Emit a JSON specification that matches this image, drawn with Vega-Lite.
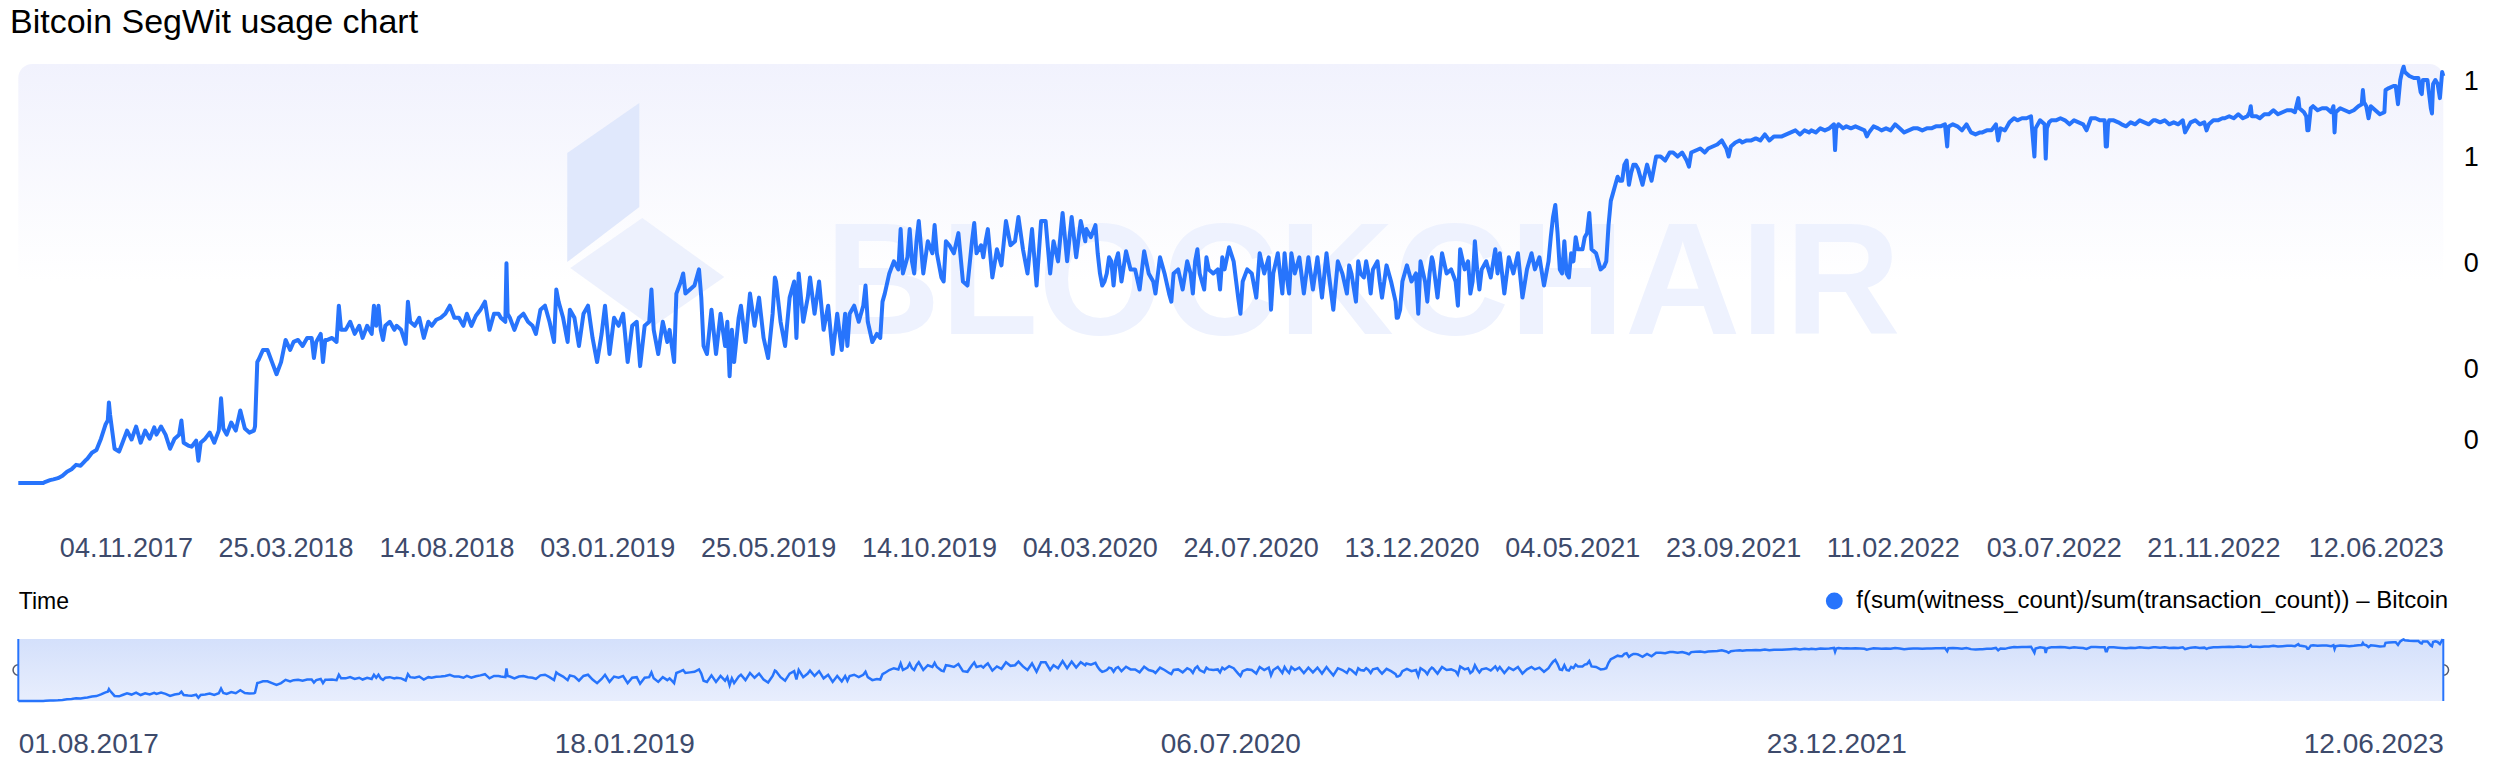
{
"$schema": "https://vega.github.io/schema/vega-lite/v6.json",
"padding": {"left": 9.3, "top": 6, "right": 10, "bottom": 0},
"background": "white",
"title": {"text": "Bitcoin SegWit usage chart", "anchor": "start", "fontSize": 34, "font": "Liberation Sans", "fontWeight": "normal", "color": "#000000", "offset": 24},
"config": {"view": {"stroke": null}, "font": "Liberation Sans"},
"spacing": 20,
"resolve": {"scale": {"x": "independent", "y": "independent", "color": "independent"}},
"datasets": {"segwit": [
{"t":"2017-08-01","v":0},{"t":"2017-08-09","v":0},{"t":"2017-08-17","v":0},{"t":"2017-08-23","v":0},{"t":"2017-08-25","v":0.003},{"t":"2017-08-29","v":0.007},
{"t":"2017-09-01","v":0.009},{"t":"2017-09-05","v":0.012},{"t":"2017-09-09","v":0.018},{"t":"2017-09-13","v":0.028},{"t":"2017-09-17","v":0.034},{"t":"2017-09-21","v":0.045},{"t":"2017-09-25","v":0.043},{"t":"2017-09-29","v":0.055},
{"t":"2017-10-01","v":0.06},{"t":"2017-10-05","v":0.075},{"t":"2017-10-09","v":0.082},{"t":"2017-10-13","v":0.11},{"t":"2017-10-17","v":0.145},{"t":"2017-10-19","v":0.155},{"t":"2017-10-20","v":0.2},{"t":"2017-10-21","v":0.17},{"t":"2017-10-25","v":0.085},{"t":"2017-10-29","v":0.078},
{"t":"2017-11-01","v":0.10},{"t":"2017-11-05","v":0.13},{"t":"2017-11-09","v":0.108},{"t":"2017-11-13","v":0.14},{"t":"2017-11-17","v":0.10},{"t":"2017-11-21","v":0.13},{"t":"2017-11-25","v":0.11},{"t":"2017-11-29","v":0.138},
{"t":"2017-12-01","v":0.12},{"t":"2017-12-05","v":0.14},{"t":"2017-12-09","v":0.12},{"t":"2017-12-13","v":0.085},{"t":"2017-12-17","v":0.11},{"t":"2017-12-21","v":0.12},{"t":"2017-12-23","v":0.155},{"t":"2017-12-25","v":0.10},{"t":"2017-12-29","v":0.093},
{"t":"2018-01-01","v":0.09},{"t":"2018-01-05","v":0.105},{"t":"2018-01-07","v":0.055},{"t":"2018-01-09","v":0.10},{"t":"2018-01-13","v":0.11},{"t":"2018-01-17","v":0.125},{"t":"2018-01-21","v":0.10},{"t":"2018-01-25","v":0.13},{"t":"2018-01-27","v":0.21},{"t":"2018-01-29","v":0.135},
{"t":"2018-02-01","v":0.12},{"t":"2018-02-05","v":0.15},{"t":"2018-02-09","v":0.13},{"t":"2018-02-13","v":0.18},{"t":"2018-02-17","v":0.135},{"t":"2018-02-21","v":0.125},{"t":"2018-02-25","v":0.13},{"t":"2018-02-26","v":0.14},{"t":"2018-02-28","v":0.30},
{"t":"2018-03-01","v":0.305},{"t":"2018-03-05","v":0.33},{"t":"2018-03-09","v":0.33},{"t":"2018-03-13","v":0.30},{"t":"2018-03-17","v":0.27},{"t":"2018-03-21","v":0.30},{"t":"2018-03-25","v":0.355},{"t":"2018-03-29","v":0.33},
{"t":"2018-04-01","v":0.35},{"t":"2018-04-05","v":0.355},{"t":"2018-04-09","v":0.34},{"t":"2018-04-13","v":0.36},{"t":"2018-04-17","v":0.36},{"t":"2018-04-19","v":0.31},{"t":"2018-04-21","v":0.35},{"t":"2018-04-25","v":0.37},{"t":"2018-04-27","v":0.30},{"t":"2018-04-29","v":0.355},
{"t":"2018-05-01","v":0.355},{"t":"2018-05-05","v":0.36},{"t":"2018-05-09","v":0.35},{"t":"2018-05-11","v":0.44},{"t":"2018-05-13","v":0.38},{"t":"2018-05-17","v":0.38},{"t":"2018-05-21","v":0.40},{"t":"2018-05-25","v":0.37},{"t":"2018-05-29","v":0.39},
{"t":"2018-06-01","v":0.36},{"t":"2018-06-05","v":0.39},{"t":"2018-06-09","v":0.37},{"t":"2018-06-11","v":0.44},{"t":"2018-06-13","v":0.39},{"t":"2018-06-15","v":0.44},{"t":"2018-06-17","v":0.38},{"t":"2018-06-19","v":0.355},{"t":"2018-06-21","v":0.39},{"t":"2018-06-25","v":0.40},{"t":"2018-06-29","v":0.38},
{"t":"2018-07-01","v":0.39},{"t":"2018-07-05","v":0.38},{"t":"2018-07-09","v":0.345},{"t":"2018-07-11","v":0.45},{"t":"2018-07-13","v":0.40},{"t":"2018-07-17","v":0.39},{"t":"2018-07-21","v":0.41},{"t":"2018-07-25","v":0.36},{"t":"2018-07-29","v":0.40},
{"t":"2018-08-01","v":0.39},{"t":"2018-08-05","v":0.405},{"t":"2018-08-09","v":0.41},{"t":"2018-08-13","v":0.42},{"t":"2018-08-17","v":0.44},{"t":"2018-08-21","v":0.41},{"t":"2018-08-25","v":0.41},{"t":"2018-08-29","v":0.39},
{"t":"2018-09-01","v":0.42},{"t":"2018-09-05","v":0.39},{"t":"2018-09-09","v":0.415},{"t":"2018-09-13","v":0.43},{"t":"2018-09-17","v":0.45},{"t":"2018-09-21","v":0.38},{"t":"2018-09-25","v":0.42},{"t":"2018-09-29","v":0.42},
{"t":"2018-10-01","v":0.41},{"t":"2018-10-05","v":0.40},{"t":"2018-10-06","v":0.545},{"t":"2018-10-07","v":0.42},{"t":"2018-10-09","v":0.41},{"t":"2018-10-13","v":0.38},{"t":"2018-10-17","v":0.41},{"t":"2018-10-21","v":0.42},{"t":"2018-10-25","v":0.40},{"t":"2018-10-29","v":0.39},
{"t":"2018-11-01","v":0.37},{"t":"2018-11-05","v":0.43},{"t":"2018-11-09","v":0.44},{"t":"2018-11-13","v":0.40},{"t":"2018-11-17","v":0.35},{"t":"2018-11-19","v":0.48},{"t":"2018-11-21","v":0.45},{"t":"2018-11-25","v":0.41},{"t":"2018-11-29","v":0.35},
{"t":"2018-12-01","v":0.43},{"t":"2018-12-05","v":0.41},{"t":"2018-12-09","v":0.34},{"t":"2018-12-13","v":0.42},{"t":"2018-12-17","v":0.44},{"t":"2018-12-21","v":0.36},{"t":"2018-12-25","v":0.30},{"t":"2018-12-29","v":0.37},
{"t":"2019-01-01","v":0.44},{"t":"2019-01-05","v":0.32},{"t":"2019-01-09","v":0.41},{"t":"2019-01-13","v":0.39},{"t":"2019-01-17","v":0.42},{"t":"2019-01-21","v":0.30},{"t":"2019-01-25","v":0.39},{"t":"2019-01-29","v":0.40},
{"t":"2019-02-01","v":0.29},{"t":"2019-02-05","v":0.39},{"t":"2019-02-09","v":0.40},{"t":"2019-02-11","v":0.48},{"t":"2019-02-13","v":0.38},{"t":"2019-02-17","v":0.32},{"t":"2019-02-21","v":0.40},{"t":"2019-02-25","v":0.35},{"t":"2019-02-27","v":0.38},
{"t":"2019-03-01","v":0.34},{"t":"2019-03-03","v":0.30},{"t":"2019-03-05","v":0.47},{"t":"2019-03-09","v":0.50},{"t":"2019-03-11","v":0.52},{"t":"2019-03-13","v":0.47},{"t":"2019-03-17","v":0.48},{"t":"2019-03-21","v":0.49},{"t":"2019-03-25","v":0.53},{"t":"2019-03-27","v":0.46},{"t":"2019-03-29","v":0.34},
{"t":"2019-04-01","v":0.32},{"t":"2019-04-05","v":0.43},{"t":"2019-04-09","v":0.32},{"t":"2019-04-13","v":0.42},{"t":"2019-04-17","v":0.34},{"t":"2019-04-19","v":0.40},{"t":"2019-04-21","v":0.265},{"t":"2019-04-23","v":0.38},{"t":"2019-04-25","v":0.30},{"t":"2019-04-29","v":0.41},
{"t":"2019-05-01","v":0.44},{"t":"2019-05-05","v":0.35},{"t":"2019-05-09","v":0.47},{"t":"2019-05-13","v":0.39},{"t":"2019-05-17","v":0.46},{"t":"2019-05-21","v":0.36},{"t":"2019-05-25","v":0.31},{"t":"2019-05-29","v":0.42},{"t":"2019-05-31","v":0.51},
{"t":"2019-06-01","v":0.50},{"t":"2019-06-05","v":0.40},{"t":"2019-06-09","v":0.34},{"t":"2019-06-13","v":0.46},{"t":"2019-06-17","v":0.50},{"t":"2019-06-19","v":0.36},{"t":"2019-06-21","v":0.52},{"t":"2019-06-25","v":0.40},{"t":"2019-06-29","v":0.46},
{"t":"2019-07-01","v":0.51},{"t":"2019-07-05","v":0.42},{"t":"2019-07-09","v":0.50},{"t":"2019-07-13","v":0.38},{"t":"2019-07-17","v":0.44},{"t":"2019-07-21","v":0.32},{"t":"2019-07-25","v":0.42},{"t":"2019-07-29","v":0.33},
{"t":"2019-08-01","v":0.42},{"t":"2019-08-03","v":0.34},{"t":"2019-08-05","v":0.42},{"t":"2019-08-09","v":0.44},{"t":"2019-08-13","v":0.40},{"t":"2019-08-17","v":0.44},{"t":"2019-08-19","v":0.49},{"t":"2019-08-21","v":0.40},{"t":"2019-08-25","v":0.35},{"t":"2019-08-29","v":0.37},
{"t":"2019-09-01","v":0.36},{"t":"2019-09-03","v":0.45},{"t":"2019-09-05","v":0.47},{"t":"2019-09-09","v":0.52},{"t":"2019-09-13","v":0.55},{"t":"2019-09-17","v":0.53},{"t":"2019-09-19","v":0.63},{"t":"2019-09-21","v":0.52},{"t":"2019-09-25","v":0.56},{"t":"2019-09-27","v":0.63},{"t":"2019-09-29","v":0.55},
{"t":"2019-10-01","v":0.52},{"t":"2019-10-03","v":0.60},{"t":"2019-10-05","v":0.65},{"t":"2019-10-09","v":0.52},{"t":"2019-10-13","v":0.60},{"t":"2019-10-17","v":0.57},{"t":"2019-10-19","v":0.64},{"t":"2019-10-21","v":0.57},{"t":"2019-10-25","v":0.51},{"t":"2019-10-27","v":0.50},{"t":"2019-10-29","v":0.60},
{"t":"2019-11-01","v":0.59},{"t":"2019-11-05","v":0.57},{"t":"2019-11-09","v":0.62},{"t":"2019-11-13","v":0.50},{"t":"2019-11-17","v":0.49},{"t":"2019-11-21","v":0.60},{"t":"2019-11-23","v":0.645},{"t":"2019-11-25","v":0.57},{"t":"2019-11-29","v":0.59},
{"t":"2019-12-01","v":0.56},{"t":"2019-12-03","v":0.60},{"t":"2019-12-05","v":0.63},{"t":"2019-12-09","v":0.51},{"t":"2019-12-13","v":0.58},{"t":"2019-12-17","v":0.54},{"t":"2019-12-21","v":0.65},{"t":"2019-12-25","v":0.59},{"t":"2019-12-29","v":0.60},
{"t":"2020-01-01","v":0.66},{"t":"2020-01-05","v":0.58},{"t":"2020-01-09","v":0.52},{"t":"2020-01-13","v":0.63},{"t":"2020-01-17","v":0.49},{"t":"2020-01-21","v":0.65},{"t":"2020-01-25","v":0.65},{"t":"2020-01-29","v":0.52},
{"t":"2020-02-01","v":0.60},{"t":"2020-02-05","v":0.55},{"t":"2020-02-09","v":0.67},{"t":"2020-02-13","v":0.55},{"t":"2020-02-17","v":0.66},{"t":"2020-02-21","v":0.56},{"t":"2020-02-25","v":0.65},{"t":"2020-02-29","v":0.60},
{"t":"2020-03-01","v":0.63},{"t":"2020-03-05","v":0.61},{"t":"2020-03-09","v":0.64},{"t":"2020-03-11","v":0.57},{"t":"2020-03-13","v":0.52},{"t":"2020-03-15","v":0.49},{"t":"2020-03-17","v":0.50},{"t":"2020-03-19","v":0.52},{"t":"2020-03-21","v":0.56},{"t":"2020-03-23","v":0.55},{"t":"2020-03-25","v":0.49},{"t":"2020-03-27","v":0.55},{"t":"2020-03-29","v":0.57},
{"t":"2020-04-01","v":0.50},{"t":"2020-04-05","v":0.575},{"t":"2020-04-09","v":0.53},{"t":"2020-04-13","v":0.53},{"t":"2020-04-17","v":0.48},{"t":"2020-04-21","v":0.575},{"t":"2020-04-25","v":0.52},{"t":"2020-04-29","v":0.50},
{"t":"2020-05-01","v":0.47},{"t":"2020-05-05","v":0.56},{"t":"2020-05-09","v":0.52},{"t":"2020-05-13","v":0.47},{"t":"2020-05-15","v":0.45},{"t":"2020-05-17","v":0.52},{"t":"2020-05-21","v":0.53},{"t":"2020-05-25","v":0.48},{"t":"2020-05-29","v":0.55},
{"t":"2020-06-01","v":0.52},{"t":"2020-06-03","v":0.47},{"t":"2020-06-05","v":0.55},{"t":"2020-06-07","v":0.58},{"t":"2020-06-09","v":0.52},{"t":"2020-06-13","v":0.48},{"t":"2020-06-15","v":0.56},{"t":"2020-06-17","v":0.53},{"t":"2020-06-21","v":0.52},{"t":"2020-06-25","v":0.53},{"t":"2020-06-27","v":0.48},{"t":"2020-06-29","v":0.56},
{"t":"2020-07-01","v":0.53},{"t":"2020-07-05","v":0.585},{"t":"2020-07-09","v":0.55},{"t":"2020-07-13","v":0.46},{"t":"2020-07-15","v":0.42},{"t":"2020-07-17","v":0.50},{"t":"2020-07-21","v":0.53},{"t":"2020-07-25","v":0.52},{"t":"2020-07-29","v":0.46},
{"t":"2020-08-01","v":0.57},{"t":"2020-08-05","v":0.52},{"t":"2020-08-09","v":0.56},{"t":"2020-08-11","v":0.43},{"t":"2020-08-13","v":0.52},{"t":"2020-08-17","v":0.57},{"t":"2020-08-21","v":0.47},{"t":"2020-08-23","v":0.57},{"t":"2020-08-25","v":0.51},{"t":"2020-08-27","v":0.47},{"t":"2020-08-29","v":0.57},
{"t":"2020-09-01","v":0.52},{"t":"2020-09-05","v":0.56},{"t":"2020-09-09","v":0.47},{"t":"2020-09-13","v":0.56},{"t":"2020-09-17","v":0.48},{"t":"2020-09-21","v":0.56},{"t":"2020-09-25","v":0.46},{"t":"2020-09-29","v":0.57},
{"t":"2020-10-01","v":0.52},{"t":"2020-10-05","v":0.43},{"t":"2020-10-09","v":0.55},{"t":"2020-10-13","v":0.52},{"t":"2020-10-17","v":0.47},{"t":"2020-10-19","v":0.54},{"t":"2020-10-21","v":0.52},{"t":"2020-10-25","v":0.45},{"t":"2020-10-27","v":0.55},{"t":"2020-10-29","v":0.52},
{"t":"2020-11-01","v":0.51},{"t":"2020-11-03","v":0.55},{"t":"2020-11-05","v":0.52},{"t":"2020-11-07","v":0.47},{"t":"2020-11-09","v":0.53},{"t":"2020-11-13","v":0.55},{"t":"2020-11-15","v":0.50},{"t":"2020-11-17","v":0.46},{"t":"2020-11-21","v":0.54},{"t":"2020-11-25","v":0.50},{"t":"2020-11-29","v":0.45},{"t":"2020-11-30","v":0.41},
{"t":"2020-12-01","v":0.41},{"t":"2020-12-03","v":0.43},{"t":"2020-12-05","v":0.50},{"t":"2020-12-09","v":0.54},{"t":"2020-12-13","v":0.50},{"t":"2020-12-17","v":0.52},{"t":"2020-12-19","v":0.42},{"t":"2020-12-21","v":0.55},{"t":"2020-12-25","v":0.50},{"t":"2020-12-27","v":0.45},{"t":"2020-12-29","v":0.52},{"t":"2020-12-31","v":0.56},
{"t":"2021-01-01","v":0.55},{"t":"2021-01-05","v":0.46},{"t":"2021-01-09","v":0.57},{"t":"2021-01-13","v":0.52},{"t":"2021-01-17","v":0.53},{"t":"2021-01-21","v":0.50},{"t":"2021-01-23","v":0.44},{"t":"2021-01-25","v":0.58},{"t":"2021-01-29","v":0.53},
{"t":"2021-02-01","v":0.55},{"t":"2021-02-03","v":0.47},{"t":"2021-02-05","v":0.50},{"t":"2021-02-07","v":0.60},{"t":"2021-02-09","v":0.53},{"t":"2021-02-11","v":0.48},{"t":"2021-02-13","v":0.53},{"t":"2021-02-17","v":0.55},{"t":"2021-02-21","v":0.51},{"t":"2021-02-25","v":0.58},{"t":"2021-02-27","v":0.52},
{"t":"2021-03-01","v":0.57},{"t":"2021-03-05","v":0.47},{"t":"2021-03-09","v":0.56},{"t":"2021-03-13","v":0.52},{"t":"2021-03-17","v":0.57},{"t":"2021-03-21","v":0.46},{"t":"2021-03-25","v":0.53},{"t":"2021-03-29","v":0.57},
{"t":"2021-04-01","v":0.53},{"t":"2021-04-05","v":0.56},{"t":"2021-04-09","v":0.49},{"t":"2021-04-13","v":0.55},{"t":"2021-04-15","v":0.61},{"t":"2021-04-17","v":0.66},{"t":"2021-04-19","v":0.69},{"t":"2021-04-21","v":0.62},{"t":"2021-04-23","v":0.53},{"t":"2021-04-25","v":0.52},{"t":"2021-04-27","v":0.60},{"t":"2021-04-29","v":0.52},
{"t":"2021-05-01","v":0.51},{"t":"2021-05-03","v":0.57},{"t":"2021-05-05","v":0.55},{"t":"2021-05-07","v":0.61},{"t":"2021-05-09","v":0.58},{"t":"2021-05-13","v":0.58},{"t":"2021-05-15","v":0.61},{"t":"2021-05-17","v":0.62},{"t":"2021-05-19","v":0.67},{"t":"2021-05-21","v":0.58},{"t":"2021-05-25","v":0.57},{"t":"2021-05-29","v":0.53},
{"t":"2021-06-01","v":0.537},{"t":"2021-06-03","v":0.55},{"t":"2021-06-05","v":0.64},{"t":"2021-06-07","v":0.70},{"t":"2021-06-09","v":0.72},{"t":"2021-06-11","v":0.74},{"t":"2021-06-13","v":0.76},{"t":"2021-06-15","v":0.75},{"t":"2021-06-17","v":0.75},{"t":"2021-06-19","v":0.79},{"t":"2021-06-21","v":0.80},{"t":"2021-06-23","v":0.74},{"t":"2021-06-25","v":0.77},{"t":"2021-06-27","v":0.79},{"t":"2021-06-29","v":0.79},
{"t":"2021-07-01","v":0.78},{"t":"2021-07-05","v":0.74},{"t":"2021-07-09","v":0.79},{"t":"2021-07-13","v":0.75},{"t":"2021-07-17","v":0.81},{"t":"2021-07-21","v":0.81},{"t":"2021-07-25","v":0.80},{"t":"2021-07-29","v":0.82},
{"t":"2021-08-01","v":0.82},{"t":"2021-08-05","v":0.81},{"t":"2021-08-09","v":0.82},{"t":"2021-08-13","v":0.80},{"t":"2021-08-15","v":0.785},{"t":"2021-08-17","v":0.82},{"t":"2021-08-21","v":0.825},{"t":"2021-08-25","v":0.83},{"t":"2021-08-29","v":0.82},
{"t":"2021-09-01","v":0.83},{"t":"2021-09-05","v":0.835},{"t":"2021-09-09","v":0.84},{"t":"2021-09-13","v":0.85},{"t":"2021-09-17","v":0.83},{"t":"2021-09-19","v":0.81},{"t":"2021-09-21","v":0.835},{"t":"2021-09-25","v":0.845},{"t":"2021-09-29","v":0.85},
{"t":"2021-10-01","v":0.845},{"t":"2021-10-05","v":0.85},{"t":"2021-10-09","v":0.85},{"t":"2021-10-13","v":0.855},{"t":"2021-10-17","v":0.85},{"t":"2021-10-21","v":0.865},{"t":"2021-10-25","v":0.85},{"t":"2021-10-29","v":0.86},
{"t":"2021-11-01","v":0.86},{"t":"2021-11-05","v":0.86},{"t":"2021-11-09","v":0.865},{"t":"2021-11-13","v":0.87},{"t":"2021-11-17","v":0.875},{"t":"2021-11-21","v":0.865},{"t":"2021-11-25","v":0.875},{"t":"2021-11-29","v":0.87},
{"t":"2021-12-01","v":0.875},{"t":"2021-12-05","v":0.87},{"t":"2021-12-09","v":0.88},{"t":"2021-12-13","v":0.875},{"t":"2021-12-17","v":0.88},{"t":"2021-12-19","v":0.885},{"t":"2021-12-21","v":0.89},{"t":"2021-12-22","v":0.826},{"t":"2021-12-23","v":0.88},{"t":"2021-12-25","v":0.89},{"t":"2021-12-29","v":0.88},
{"t":"2022-01-01","v":0.885},{"t":"2022-01-05","v":0.88},{"t":"2022-01-09","v":0.885},{"t":"2022-01-13","v":0.88},{"t":"2022-01-17","v":0.875},{"t":"2022-01-19","v":0.86},{"t":"2022-01-21","v":0.87},{"t":"2022-01-25","v":0.885},{"t":"2022-01-29","v":0.88},
{"t":"2022-02-01","v":0.875},{"t":"2022-02-05","v":0.88},{"t":"2022-02-09","v":0.875},{"t":"2022-02-13","v":0.89},{"t":"2022-02-17","v":0.88},{"t":"2022-02-21","v":0.87},{"t":"2022-02-25","v":0.875},
{"t":"2022-03-01","v":0.88},{"t":"2022-03-05","v":0.88},{"t":"2022-03-09","v":0.875},{"t":"2022-03-13","v":0.88},{"t":"2022-03-17","v":0.88},{"t":"2022-03-21","v":0.885},{"t":"2022-03-25","v":0.885},{"t":"2022-03-29","v":0.89},{"t":"2022-03-31","v":0.835},
{"t":"2022-04-01","v":0.884},{"t":"2022-04-05","v":0.89},{"t":"2022-04-09","v":0.885},{"t":"2022-04-13","v":0.875},{"t":"2022-04-17","v":0.89},{"t":"2022-04-21","v":0.87},{"t":"2022-04-25","v":0.865},{"t":"2022-04-29","v":0.87},
{"t":"2022-05-01","v":0.87},{"t":"2022-05-05","v":0.875},{"t":"2022-05-09","v":0.875},{"t":"2022-05-13","v":0.89},{"t":"2022-05-15","v":0.85},{"t":"2022-05-17","v":0.88},{"t":"2022-05-21","v":0.875},{"t":"2022-05-25","v":0.895},{"t":"2022-05-29","v":0.905},
{"t":"2022-06-01","v":0.90},{"t":"2022-06-05","v":0.905},{"t":"2022-06-09","v":0.905},{"t":"2022-06-13","v":0.91},{"t":"2022-06-16","v":0.81},{"t":"2022-06-17","v":0.88},{"t":"2022-06-21","v":0.90},{"t":"2022-06-25","v":0.89},{"t":"2022-06-26","v":0.805},{"t":"2022-06-27","v":0.88},{"t":"2022-06-29","v":0.895},
{"t":"2022-07-01","v":0.90},{"t":"2022-07-05","v":0.90},{"t":"2022-07-09","v":0.905},{"t":"2022-07-13","v":0.90},{"t":"2022-07-17","v":0.89},{"t":"2022-07-21","v":0.90},{"t":"2022-07-25","v":0.895},{"t":"2022-07-29","v":0.89},
{"t":"2022-08-01","v":0.875},{"t":"2022-08-05","v":0.905},{"t":"2022-08-09","v":0.905},{"t":"2022-08-13","v":0.90},{"t":"2022-08-17","v":0.90},{"t":"2022-08-18","v":0.835},{"t":"2022-08-19","v":0.835},{"t":"2022-08-20","v":0.89},{"t":"2022-08-21","v":0.90},{"t":"2022-08-25","v":0.90},{"t":"2022-08-29","v":0.895},
{"t":"2022-09-01","v":0.89},{"t":"2022-09-05","v":0.885},{"t":"2022-09-09","v":0.895},{"t":"2022-09-13","v":0.89},{"t":"2022-09-17","v":0.90},{"t":"2022-09-21","v":0.895},{"t":"2022-09-25","v":0.89},{"t":"2022-09-29","v":0.90},
{"t":"2022-10-01","v":0.90},{"t":"2022-10-05","v":0.895},{"t":"2022-10-09","v":0.90},{"t":"2022-10-13","v":0.89},{"t":"2022-10-17","v":0.895},{"t":"2022-10-21","v":0.89},{"t":"2022-10-25","v":0.90},{"t":"2022-10-27","v":0.87},{"t":"2022-10-29","v":0.88},
{"t":"2022-11-01","v":0.895},{"t":"2022-11-05","v":0.90},{"t":"2022-11-09","v":0.89},{"t":"2022-11-13","v":0.895},{"t":"2022-11-15","v":0.875},{"t":"2022-11-17","v":0.89},{"t":"2022-11-21","v":0.90},{"t":"2022-11-25","v":0.90},{"t":"2022-11-29","v":0.905},
{"t":"2022-12-01","v":0.905},{"t":"2022-12-05","v":0.91},{"t":"2022-12-09","v":0.905},{"t":"2022-12-13","v":0.915},{"t":"2022-12-17","v":0.905},{"t":"2022-12-21","v":0.91},{"t":"2022-12-23","v":0.92},{"t":"2022-12-24","v":0.935},{"t":"2022-12-25","v":0.91},{"t":"2022-12-29","v":0.91},
{"t":"2023-01-01","v":0.905},{"t":"2023-01-05","v":0.915},{"t":"2023-01-09","v":0.915},{"t":"2023-01-13","v":0.925},{"t":"2023-01-17","v":0.915},{"t":"2023-01-21","v":0.92},{"t":"2023-01-25","v":0.925},{"t":"2023-01-29","v":0.925},
{"t":"2023-02-01","v":0.92},{"t":"2023-02-04","v":0.955},{"t":"2023-02-05","v":0.93},{"t":"2023-02-09","v":0.92},{"t":"2023-02-11","v":0.91},{"t":"2023-02-12","v":0.875},{"t":"2023-02-13","v":0.875},{"t":"2023-02-15","v":0.93},{"t":"2023-02-17","v":0.935},{"t":"2023-02-21","v":0.925},{"t":"2023-02-25","v":0.93},
{"t":"2023-03-01","v":0.93},{"t":"2023-03-05","v":0.92},{"t":"2023-03-07","v":0.935},{"t":"2023-03-08","v":0.87},{"t":"2023-03-09","v":0.92},{"t":"2023-03-13","v":0.93},{"t":"2023-03-17","v":0.925},{"t":"2023-03-21","v":0.92},{"t":"2023-03-25","v":0.925},{"t":"2023-03-29","v":0.935},
{"t":"2023-04-01","v":0.94},{"t":"2023-04-02","v":0.975},{"t":"2023-04-03","v":0.945},{"t":"2023-04-05","v":0.935},{"t":"2023-04-07","v":0.905},{"t":"2023-04-09","v":0.935},{"t":"2023-04-13","v":0.925},{"t":"2023-04-17","v":0.915},{"t":"2023-04-21","v":0.92},{"t":"2023-04-22","v":0.975},{"t":"2023-04-25","v":0.98},{"t":"2023-04-29","v":0.985},
{"t":"2023-05-01","v":0.985},{"t":"2023-05-03","v":0.94},{"t":"2023-05-05","v":1.0},{"t":"2023-05-07","v":1.025},{"t":"2023-05-08","v":1.033},{"t":"2023-05-09","v":1.02},{"t":"2023-05-13","v":1.01},{"t":"2023-05-17","v":1.005},{"t":"2023-05-21","v":1.005},{"t":"2023-05-23","v":0.97},{"t":"2023-05-24","v":0.965},{"t":"2023-05-25","v":1.0},{"t":"2023-05-29","v":1.0},
{"t":"2023-06-01","v":0.93},{"t":"2023-06-02","v":0.917},{"t":"2023-06-03","v":0.99},{"t":"2023-06-05","v":1.0},{"t":"2023-06-07","v":0.99},{"t":"2023-06-09","v":0.955},{"t":"2023-06-11","v":1.02},{"t":"2023-06-12","v":1.01}
]},
"vconcat": [
{
"width": 2425, "height": 436,
"layer": [
{"data": {"values": [{}]},
 "mark": {"type": "rect", "cornerRadius": 14, "color": {"gradient": "linear", "x1": 0, "y1": 0, "x2": 0, "y2": 1, "stops": [{"offset": 0, "color": "#f1f2fd"}, {"offset": 0.5, "color": "#ffffff"}]}},
 "encoding": {
  "x": {"datum": {"year": 2017, "month": 8, "date": 1, "utc": true}, "type": "temporal"},
  "x2": {"datum": {"year": 2023, "month": 6, "date": 12, "utc": true}},
  "y": {"datum": 1.0397, "type": "quantitative"},
  "y2": {"datum": -0.0422}
 }},
{"data": {"values": [{}]},
 "mark": {"type": "point", "shape": "M-0.701,-0.554L-0.058,-1L-0.058,-0.071L-0.701,0.42Z", "filled": true, "color": "#e0e8fc", "opacity": 1, "size": 50176, "strokeWidth": 0},
 "encoding": {
  "x": {"datum": {"year": 2019, "month": 2, "date": 6, "utc": true}, "type": "temporal"},
  "y": {"datum": 0.665, "type": "quantitative"}
 }},
{"data": {"values": [{}]},
 "mark": {"type": "point", "shape": "M-0.674,0.473L-0.031,0.027L0.701,0.554L0.058,1Z", "filled": true, "color": "#edf1fd", "opacity": 1, "size": 50176, "strokeWidth": 0},
 "encoding": {
  "x": {"datum": {"year": 2019, "month": 2, "date": 6, "utc": true}, "type": "temporal"},
  "y": {"datum": 0.665, "type": "quantitative"}
 }},
{"data": {"values": [{}]},
 "mark": {"type": "text", "text": "BLOCKCHAIR", "font": "Liberation Sans", "fontWeight": "bold", "fontSize": 160, "color": "#eef2fe", "align": "center", "baseline": "middle"},
 "encoding": {
  "x": {"datum": {"year": 2020, "month": 10, "date": 31, "utc": true}, "type": "temporal"},
  "y": {"datum": 0.49, "type": "quantitative"}
 }},
{"data": {"name": "segwit"},
 "mark": {"type": "line", "strokeWidth": 4, "strokeJoin": "round"},
 "encoding": {
  "x": {"field": "t", "type": "temporal",
   "scale": {"type": "utc", "nice": false, "domain": [{"year": 2017, "month": 8, "date": 1, "utc": true}, {"year": 2023, "month": 6, "date": 12, "utc": true}]},
   "axis": {
    "values": [
     {"year": 2017, "month": 11, "date": 4, "utc": true},
     {"year": 2018, "month": 3, "date": 25, "utc": true},
     {"year": 2018, "month": 8, "date": 14, "utc": true},
     {"year": 2019, "month": 1, "date": 3, "utc": true},
     {"year": 2019, "month": 5, "date": 25, "utc": true},
     {"year": 2019, "month": 10, "date": 14, "utc": true},
     {"year": 2020, "month": 3, "date": 4, "utc": true},
     {"year": 2020, "month": 7, "date": 24, "utc": true},
     {"year": 2020, "month": 12, "date": 13, "utc": true},
     {"year": 2021, "month": 5, "date": 4, "utc": true},
     {"year": 2021, "month": 9, "date": 23, "utc": true},
     {"year": 2022, "month": 2, "date": 11, "utc": true},
     {"year": 2022, "month": 7, "date": 3, "utc": true},
     {"year": 2022, "month": 11, "date": 21, "utc": true},
     {"year": 2023, "month": 6, "date": 12, "utc": true}
    ],
    "labelExpr": "utcFormat(datum.value, '%d.%m.%Y')",
    "labelAlign": {"condition": {"test": "datum.index === 1", "value": "right"}, "value": "center"},
    "labelOverlap": false, "labelFlush": false,
    "domain": false, "ticks": false, "tickSize": 0, "grid": false,
    "labelPadding": 48.6, "labelBaseline": "middle",
    "labelFontSize": 27, "labelFont": "Liberation Sans", "labelColor": "#3d4a6b",
    "title": "Time", "titleAnchor": "start", "titleAlign": "left",
    "titleFontSize": 23, "titleFont": "Liberation Sans", "titleFontWeight": "normal", "titleColor": "#000000",
    "titlePadding": 29
   }},
  "y": {"field": "v", "type": "quantitative",
   "scale": {"domain": [-0.0422, 1.0397], "nice": false, "zero": false},
   "axis": {
    "orient": "right",
    "values": [0.106, 0.282, 0.544, 0.807, 0.997],
    "labelExpr": "datum.value > 0.7 ? '1' : '0'",
    "domain": false, "ticks": false, "tickSize": 0, "grid": false,
    "labelPadding": 20, "labelBaseline": "middle",
    "labelFontSize": 27, "labelFont": "Liberation Sans", "labelColor": "#000000",
    "title": null
   }},
  "color": {"datum": "f(sum(witness_count)/sum(transaction_count)) – Bitcoin", "type": "nominal",
   "scale": {"range": ["#2774fc"]},
   "legend": {
    "orient": "none", "legendX": 1804, "legendY": 525,
    "title": null, "padding": 0,
    "symbolType": "circle", "symbolSize": 283, "symbolFillColor": "#2774fc", "symbolStrokeWidth": 0,
    "labelFontSize": 24, "labelFont": "Liberation Sans", "labelColor": "#000000",
    "labelOffset": 10, "labelLimit": 1000,
    "encode": {"symbols": {"update": {"fill": {"value": "#2774fc"}, "stroke": {"value": "#2774fc"}, "strokeWidth": {"value": 0}, "shape": {"value": "circle"}, "size": {"value": 283}}}}
   }}
 }}
]
},
{
"width": 2425, "height": 62,
"layer": [
{"data": {"values": [{}]},
 "mark": {"type": "point", "shape": "circle", "filled": true, "fill": "#ffffff", "stroke": "#55596a", "strokeWidth": 1.5, "size": 110, "opacity": 1},
 "encoding": {
  "x": {"datum": {"year": 2017, "month": 8, "date": 1, "utc": true}, "type": "temporal"},
  "y": {"datum": 0.52, "type": "quantitative", "axis": null}
 }},
{"data": {"values": [{}]},
 "mark": {"type": "point", "shape": "circle", "filled": true, "fill": "#ffffff", "stroke": "#55596a", "strokeWidth": 1.5, "size": 110, "opacity": 1},
 "encoding": {
  "x": {"datum": {"year": 2023, "month": 6, "date": 12, "utc": true}, "type": "temporal"},
  "y": {"datum": 0.52, "type": "quantitative", "axis": null}
 }},
{"data": {"values": [{}]},
 "mark": {"type": "rect", "color": {"gradient": "linear", "x1": 0, "y1": 0, "x2": 0, "y2": 1, "stops": [{"offset": 0, "color": "#d4e0fb"}, {"offset": 1, "color": "#e8eefd"}]}},
 "encoding": {
  "x": {"datum": {"year": 2017, "month": 8, "date": 1, "utc": true}, "type": "temporal"},
  "x2": {"datum": {"year": 2023, "month": 6, "date": 12, "utc": true}},
  "y": {"datum": 1.04, "type": "quantitative", "axis": null},
  "y2": {"datum": 0}
 }},
{"data": {"name": "segwit"},
 "mark": {"type": "line", "strokeWidth": 2.5, "color": "#2774fc"},
 "encoding": {
  "x": {"field": "t", "type": "temporal",
   "scale": {"type": "utc", "nice": false, "domain": [{"year": 2017, "month": 8, "date": 1, "utc": true}, {"year": 2023, "month": 6, "date": 12, "utc": true}]},
   "axis": {
    "values": [
     {"year": 2017, "month": 8, "date": 1, "utc": true},
     {"year": 2019, "month": 1, "date": 18, "utc": true},
     {"year": 2020, "month": 7, "date": 6, "utc": true},
     {"year": 2021, "month": 12, "date": 23, "utc": true},
     {"year": 2023, "month": 6, "date": 12, "utc": true}
    ],
    "labelExpr": "utcFormat(datum.value, '%d.%m.%Y')",
    "labelAlign": {"condition": [{"test": "datum.index === 0", "value": "left"}, {"test": "datum.index === 1", "value": "right"}], "value": "center"},
    "labelOverlap": false, "labelFlush": false,
    "domain": false, "ticks": false, "tickSize": 0, "grid": false,
    "labelPadding": 44, "labelBaseline": "middle",
    "labelFontSize": 28, "labelFont": "Liberation Sans", "labelColor": "#3d4a6b",
    "title": null
   }},
  "y": {"field": "v", "type": "quantitative", "scale": {"domain": [0, 1.04], "nice": false, "zero": false}, "axis": null}
 }},
{"data": {"values": [{}]},
 "mark": {"type": "rule", "color": "#2774fc", "strokeWidth": 2},
 "encoding": {
  "x": {"datum": {"year": 2017, "month": 8, "date": 1, "utc": true}, "type": "temporal"}
 }},
{"data": {"values": [{}]},
 "mark": {"type": "rule", "color": "#2774fc", "strokeWidth": 2},
 "encoding": {
  "x": {"datum": {"year": 2023, "month": 6, "date": 12, "utc": true}, "type": "temporal"}
 }}
]
}
]
}
